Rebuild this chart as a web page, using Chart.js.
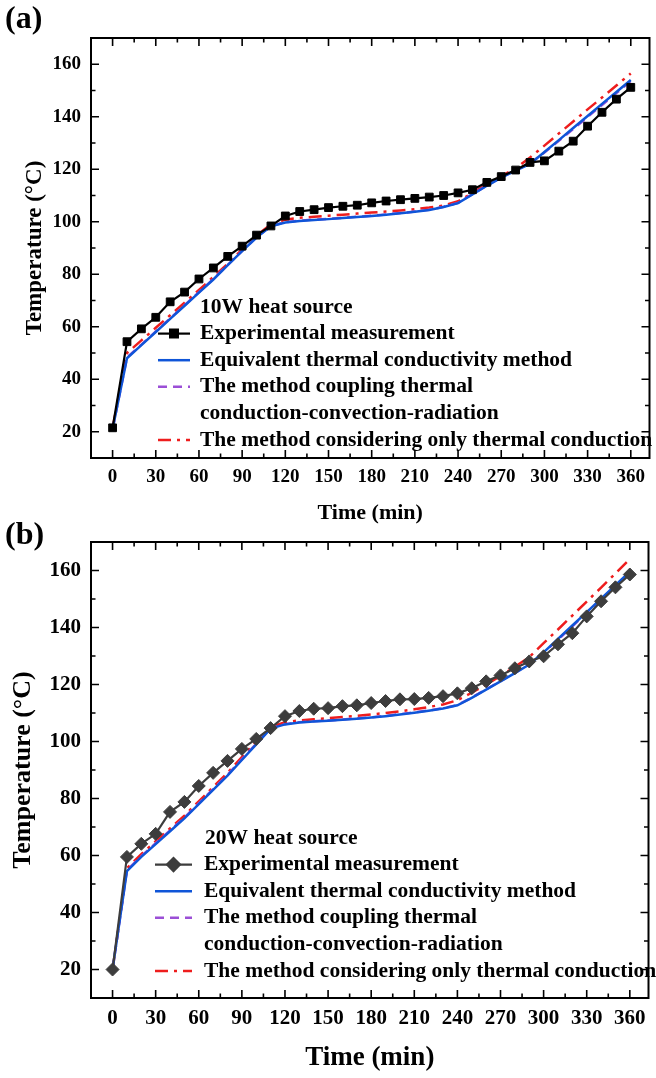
<!DOCTYPE html>
<html>
<head>
<meta charset="utf-8">
<title>Temperature vs time</title>
<script src="https://cdn.jsdelivr.net/npm/chart.js@4.4.1/dist/chart.umd.min.js"></script>
<style>
    html, body { margin: 0; padding: 0; background: #fff; }
    body { width: 656px; height: 1078px; position: relative; overflow: hidden; }
    .panel { position: absolute; left: 0; }
    #chartA { top: 0; }
    #chartB { top: 516px; }
</style>
</head>
<body>
<canvas id="chartA" class="panel" width="656" height="524"></canvas>
<canvas id="chartB" class="panel" width="656" height="562"></canvas>
<script>
// Tempo (min) e rótulos dos eixos
const timeMin = [0, 10, 20, 30, 40, 50, 60, 70, 80, 90, 100, 110, 120, 130, 140, 150, 160, 170, 180,
                 190, 200, 210, 220, 230, 240, 250, 260, 270, 280, 290, 300, 310, 320, 330, 340, 350, 360];
const xTicks = [0, 30, 60, 90, 120, 150, 180, 210, 240, 270, 300, 330, 360];
const yTicks = [20, 40, 60, 80, 100, 120, 140, 160];

const seriesLabels = [
    'Experimental measurement',
    'Equivalent thermal conductivity method',
    'The method coupling thermal\nconduction-convection-radiation',
    'The method considering only thermal conduction'
];

// (a) 10W
const expA = [21.5, 54.3, 59.2, 63.6, 69.5, 73.2, 78.2, 82.4, 86.8, 90.7, 94.9, 98.4, 102.2, 103.9, 104.6,
              105.4, 105.9, 106.3, 107.2, 107.9, 108.4, 108.9, 109.4, 110.0, 111.0, 112.2, 115.0, 117.2,
              119.7, 122.6, 123.2, 126.9, 130.7, 136.4, 141.7, 146.7, 151.2];
const equivA = [21, 48, 53, 58, 63, 68, 73, 78, 83.5, 88.8, 94, 98.3, 99.7, 100.3, 100.7, 101.0, 101.4,
                101.8, 102.2, 102.7, 103.2, 103.8, 104.5, 105.6, 107.1, 110.4, 113.7, 116.8, 119.5, 122.0,
                126.6, 131.1, 135.7, 140.3, 144.9, 149.4, 154.0];
const coupledA = [21, 48.3, 53.2, 58.2, 63.2, 68.2, 73.2, 78.2, 83.6, 88.9, 94.1, 98.4, 99.8, 100.4, 100.8,
                  101.1, 101.5, 101.9, 102.3, 102.8, 103.3, 103.9, 104.6, 105.7, 107.2, 110.5, 113.8, 116.9,
                  119.6, 122.2, 126.4, 130.8, 135.3, 139.9, 144.5, 149.0, 153.6];
const conductionA = [21.5, 50, 54.8, 59.6, 64.4, 69.2, 74, 79, 84, 89.5, 94.8, 99, 100.8, 101.5, 101.9,
                     102.3, 102.7, 103.1, 103.5, 103.9, 104.3, 104.8, 105.4, 106.2, 107.8, 111, 114.3, 117.5,
                     120.3, 124.5, 129, 133.6, 138.2, 142.8, 147.3, 151.9, 156.5];

// (b) 20W
const expB = [20, 59.5, 64.1, 67.6, 75.3, 78.8, 84.4, 89, 93.2, 97.4, 100.9, 104.7, 108.9, 110.7, 111.5,
              111.7, 112.4, 112.7, 113.5, 114.2, 114.8, 114.9, 115.3, 115.9, 116.9, 118.7, 121.1, 123.2,
              125.7, 128.1, 129.9, 134.1, 138, 143.9, 149.2, 154.1, 158.6];
const equivB = [20, 54.5, 59.5, 64, 68.5, 73, 78, 83, 88, 93.5, 99, 104.5, 106, 106.7, 107, 107.3, 107.6,
                108, 108.4, 108.9, 109.5, 110.1, 110.8, 111.6, 112.7, 115.3, 118.2, 121.1, 124, 127, 131.3,
                136, 140.7, 145.4, 150.1, 154.9, 159.6];
const coupledB = [20, 54.8, 59.8, 64.3, 68.8, 73.3, 78.3, 83.3, 88.3, 93.8, 99.2, 104.6, 106.1, 106.8, 107.1,
                  107.4, 107.7, 108.1, 108.5, 109, 109.6, 110.2, 110.9, 111.7, 112.8, 115.4, 118.3, 121.2,
                  124.1, 127.1, 131.1, 135.7, 140.4, 145.1, 149.8, 154.6, 159.3];
const conductionB = [20, 55.5, 60.5, 65, 69.5, 74, 79, 84, 89, 94.5, 100, 105, 106.8, 107.4, 107.8, 108.2,
                     108.6, 109, 109.5, 110, 110.6, 111.3, 112.1, 113, 114.5, 117.1, 120, 123, 126.2, 129.6,
                     134.5, 139.3, 144.2, 149.1, 154, 159, 164];

const SERIF = '"Liberation Serif", "Times New Roman", serif';

function toPoints(values) {
    return timeMin.map((t, i) => ({ x: t, y: values[i] }));
}

// Marcas para dentro em todos os lados + moldura
const frameTicks = {
    id: 'frameTicks',
    afterDraw(chart) {
        const { ctx, chartArea: a, scales: { x, y } } = chart;
        const major = 8, minor = 4.5;
        ctx.save();
        ctx.strokeStyle = '#000';
        ctx.lineWidth = 1.6;
        ctx.beginPath();
        xTicks.forEach((v, i) => {
            const px = x.getPixelForValue(v);
            ctx.moveTo(px, a.bottom); ctx.lineTo(px, a.bottom - major);
            ctx.moveTo(px, a.top); ctx.lineTo(px, a.top + major);
            if (i < xTicks.length - 1) {
                const m = x.getPixelForValue((v + xTicks[i + 1]) / 2);
                ctx.moveTo(m, a.bottom); ctx.lineTo(m, a.bottom - minor);
                ctx.moveTo(m, a.top); ctx.lineTo(m, a.top + minor);
            }
        });
        yTicks.forEach((v, i) => {
            const py = y.getPixelForValue(v);
            ctx.moveTo(a.left, py); ctx.lineTo(a.left + major, py);
            ctx.moveTo(a.right, py); ctx.lineTo(a.right - major, py);
            const steps = [v - 10];
            if (i === yTicks.length - 1) steps.push(v + 10);
            steps.forEach(s => {
                const m = y.getPixelForValue(s);
                if (m > a.top + 1 && m < a.bottom - 1) {
                    ctx.moveTo(a.left, m); ctx.lineTo(a.left + minor, m);
                    ctx.moveTo(a.right, m); ctx.lineTo(a.right - minor, m);
                }
            });
        });
        ctx.stroke();
        ctx.lineWidth = 2;
        ctx.strokeRect(a.left, a.top, a.right - a.left, a.bottom - a.top);
        ctx.restore();
    }
};

// Legenda desenhada dentro da área do gráfico
const insideLegend = {
    id: 'insideLegend',
    afterDraw(chart, args, opts) {
        const ctx = chart.ctx;
        ctx.save();
        ctx.font = 'bold ' + opts.size + 'px ' + SERIF;
        ctx.textBaseline = 'middle';
        ctx.fillStyle = '#000';
        let y = opts.top;
        ctx.fillText(opts.title, opts.titleX, y);
        chart.data.datasets.forEach(ds => {
            y += opts.gap;
            ctx.save();
            ctx.strokeStyle = ds.borderColor;
            ctx.lineWidth = ds.borderWidth;
            ctx.setLineDash(ds.borderDash || []);
            ctx.beginPath();
            ctx.moveTo(opts.symX0, y);
            ctx.lineTo(opts.symX1, y);
            ctx.stroke();
            if (ds.pointRadius > 0) {
                ctx.setLineDash([]);
                ctx.fillStyle = ds.backgroundColor;
                Chart.helpers.drawPoint(ctx, {
                    pointStyle: ds.pointStyle, radius: ds.pointRadius, borderWidth: 1, rotation: 0
                }, (opts.symX0 + opts.symX1) / 2, y);
            }
            ctx.restore();
            ds.label.split('\n').forEach((line, k) => {
                if (k > 0) y += opts.gap;
                ctx.fillText(line, opts.textX, y);
            });
        });
        ctx.restore();
    }
};

// Rótulo do painel, (a) / (b)
const panelTag = {
    id: 'panelTag',
    afterDraw(chart, args, opts) {
        const ctx = chart.ctx;
        ctx.save();
        ctx.font = 'bold 32px ' + SERIF;
        ctx.textBaseline = 'middle';
        ctx.fillStyle = '#000';
        ctx.fillText(opts.text, opts.x, opts.y);
        ctx.restore();
    }
};

function buildChart(canvasId, series, cfg) {
    const ctx = document.getElementById(canvasId);
    return new Chart(ctx, {
        type: 'line',
        data: {
            datasets: [{
                label: seriesLabels[0],
                data: toPoints(series[0]),
                borderColor: cfg.expColor,
                backgroundColor: cfg.expColor,
                borderWidth: 2.2,
                pointStyle: cfg.marker,
                pointRadius: cfg.markerRadius,
                pointBorderWidth: 1
            }, {
                label: seriesLabels[1],
                data: toPoints(series[1]),
                borderColor: '#0f55d8',
                borderWidth: 2.5,
                pointRadius: 0
            }, {
                label: seriesLabels[2],
                data: toPoints(series[2]),
                borderColor: '#9b4fd6',
                borderWidth: 2.5,
                borderDash: [9, 6],
                pointRadius: 0
            }, {
                label: seriesLabels[3],
                data: toPoints(series[3]),
                borderColor: '#ee1d1d',
                borderWidth: 2.5,
                borderDash: [13, 6, 3, 6],
                pointRadius: 0
            }]
        },
        options: {
            responsive: false,
            animation: false,
            events: [],
            layout: { padding: { top: cfg.plotTop, right: 3, left: 0, bottom: 0 } },
            plugins: {
                legend: { display: false },
                tooltip: { enabled: false },
                insideLegend: cfg.legend,
                panelTag: cfg.tag
            },
            scales: {
                x: {
                    type: 'linear',
                    min: -15,
                    max: 373,
                    afterBuildTicks: s => { s.ticks = xTicks.map(v => ({ value: v })); },
                    afterFit: s => { s.height = cfg.xAxisHeight; },
                    grid: { display: false, drawTicks: false },
                    border: { display: false },
                    ticks: {
                        color: '#000',
                        autoSkip: false,
                        maxRotation: 0,
                        padding: cfg.xTickPad,
                        font: { family: SERIF, size: cfg.tickSize, weight: 'bold' }
                    },
                    title: {
                        display: true,
                        text: 'Time (min)',
                        color: '#000',
                        padding: { top: 0, bottom: cfg.xTitlePad },
                        font: { family: SERIF, size: cfg.titleSize, weight: 'bold', lineHeight: 1 }
                    }
                },
                y: {
                    min: 10,
                    max: 170,
                    afterBuildTicks: s => { s.ticks = yTicks.map(v => ({ value: v })); },
                    afterFit: s => { s.width = 91; },
                    grid: { display: false, drawTicks: false },
                    border: { display: false },
                    ticks: {
                        color: '#000',
                        padding: 10,
                        font: { family: SERIF, size: cfg.tickSize, weight: 'bold' }
                    },
                    title: {
                        display: true,
                        text: 'Temperature (°C)',
                        color: '#000',
                        padding: { top: cfg.yTitlePad, bottom: 0 },
                        font: { family: SERIF, size: cfg.yTitleSize, weight: 'bold', lineHeight: 1 }
                    }
                }
            }
        },
        plugins: [frameTicks, insideLegend, panelTag]
    });
}

buildChart('chartA', [expA, equivA, coupledA, conductionA], {
    expColor: '#000000',
    marker: 'rect',
    markerRadius: 5.5,
    plotTop: 38,
    xAxisHeight: 66,
    xTickPad: 8,
    xTitlePad: 0,
    yTitlePad: 24,
    tickSize: 19,
    titleSize: 22,
    yTitleSize: 23,
    legend: { title: '10W heat source', size: 21.5, top: 307, gap: 26.6, titleX: 200, textX: 200, symX0: 158, symX1: 190 },
    tag: { text: '(a)', x: 5, y: 20 }
});

buildChart('chartB', [expB, equivB, coupledB, conductionB], {
    expColor: '#3d3d3d',
    marker: 'rectRot',
    markerRadius: 6.5,
    plotTop: 26,
    xAxisHeight: 80,
    xTickPad: 8,
    xTitlePad: 6,
    yTitlePad: 10,
    tickSize: 21,
    titleSize: 27,
    yTitleSize: 26,
    legend: { title: '20W heat source', size: 21.5, top: 322, gap: 26.6, titleX: 205, textX: 204, symX0: 155, symX1: 192 },
    tag: { text: '(b)', x: 5, y: 20 }
});
</script>
</body>
</html>
